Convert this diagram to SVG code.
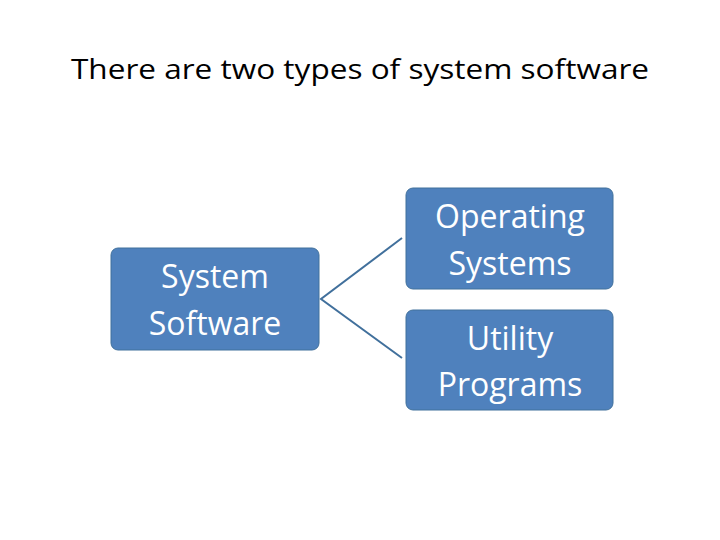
<svg xmlns="http://www.w3.org/2000/svg" width="720" height="540" viewBox="0 0 720 540">
<style>
.box{fill:#4f81bd;stroke:#41719c;stroke-width:1}
.t{font-family:"Open Sans","Liberation Sans",sans-serif;fill:#fff;font-size:32px;text-anchor:middle}
.c{stroke:#41709c;stroke-width:2;fill:none}
</style>
<rect width="720" height="540" fill="#fff"/>
<text x="360" y="79" font-family="Open Sans,Liberation Sans,sans-serif" font-size="28" text-anchor="middle" fill="#000" textLength="578" lengthAdjust="spacingAndGlyphs">There are two types of system software</text>
<g id="connectors">
<path class="c" d="M402 238 L321 299 L402 358"/>
</g>
<g id="system-software">
<rect class="box" x="111" y="248" width="208" height="102" rx="7"/>
<text class="t" x="215" y="288">System</text>
<text class="t" x="215" y="335">Software</text>
</g>
<g id="operating-systems">
<rect class="box" x="406" y="188" width="207" height="101" rx="7"/>
<text class="t" x="510" y="228">Operating</text>
<text class="t" x="510" y="275">Systems</text>
</g>
<g id="utility-programs">
<rect class="box" x="406" y="310" width="207" height="100" rx="7"/>
<text class="t" x="510" y="350">Utility</text>
<text class="t" x="510" y="396">Programs</text>
</g>
</svg>
